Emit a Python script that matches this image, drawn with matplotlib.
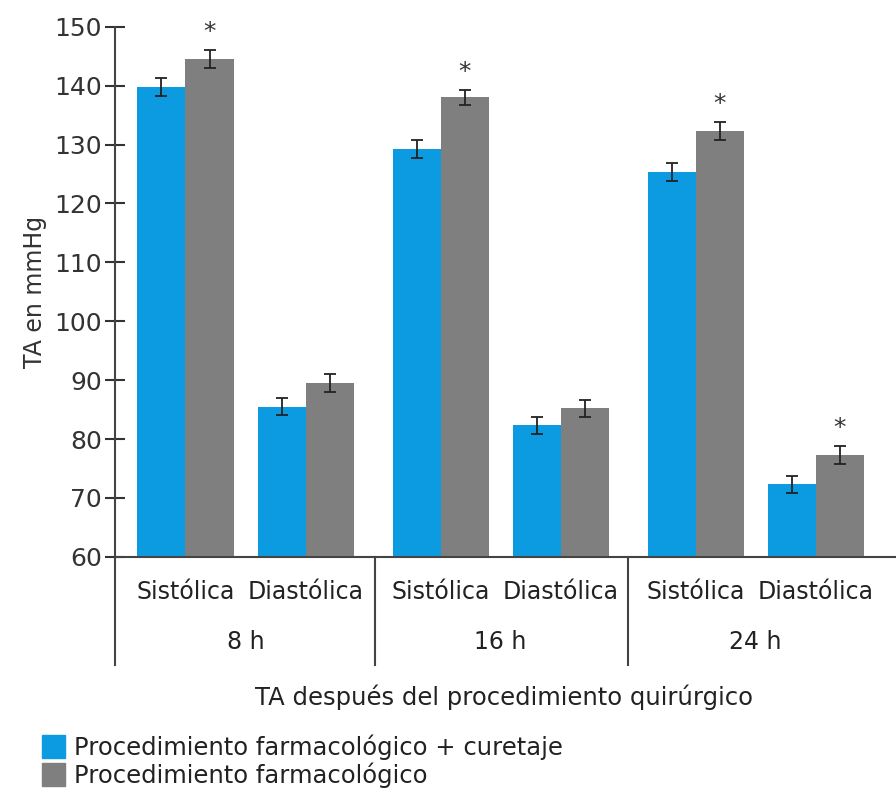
import numpy as np
import matplotlib.pyplot as plt
from matplotlib.patches import Patch

# datos
grupos = ["8 h", "16 h", "24 h"]
tipos = ["Sistólica", "Diastólica"]
farm_cur = [139.8, 85.5, 129.2, 82.3, 125.3, 72.3]
farm_cur_err = [1.5, 1.5, 1.5, 1.5, 1.5, 1.5]
farm = [144.5, 89.5, 138.0, 85.2, 132.3, 77.3]
farm_err = [1.5, 1.5, 1.3, 1.5, 1.5, 1.5]
signif = [True, False, True, False, True, True]

azul = "#0c9be0"
gris = "#7f7f7f"

plt.rcParams['font.family'] = ['DejaVu Sans']

fig = plt.figure(figsize=(8.96, 8), dpi=100)
ax = fig.add_axes([0.128, 0.304, 0.872, 0.6625])

w = 0.4
gap = 2.125
x = np.array([g * gap + s for g in range(3) for s in range(2)])

ax.bar(x - w / 2, farm_cur, w, color=azul, zorder=2)
ax.bar(x + w / 2, farm, w, color=gris, zorder=2)
ax.errorbar(x - w / 2, farm_cur, yerr=farm_cur_err, fmt="none", ecolor="#222222",
            elinewidth=1.3, capsize=4, capthick=1.3, zorder=3)
ax.errorbar(x + w / 2, farm, yerr=farm_err, fmt="none", ecolor="#222222",
            elinewidth=1.3, capsize=4, capthick=1.3, zorder=3)
for xi, v, e, s in zip(x, farm, farm_err, signif):
    if s:
        ax.text(xi + w / 2, v + e + 1.0, "*", ha="center", va="bottom",
                fontsize=18, color="#333333")

ax.set_ylim(60, 150)
ax.set_xlim(-0.59, 5.92)
ax.set_yticks(range(60, 151, 10))
ax.tick_params(axis="y", direction="inout", length=14, width=1.5, labelsize=18,
               colors="#333333", pad=2)
ax.set_xticks([])
for sp in ["top", "right"]:
    ax.spines[sp].set_visible(False)
ax.spines["left"].set_color("#444444")
ax.spines["left"].set_linewidth(1.5)
ax.spines["bottom"].set_color("#444444")
ax.spines["bottom"].set_linewidth(1.5)

ax.set_ylabel("TA en mmHg", fontsize=17, color="#333333", labelpad=5)

# etiquetas del eje x en dos niveles
trans = ax.get_xaxis_transform()
for i, xi in enumerate(x):
    ax.text(xi, -0.066, tipos[i % 2], transform=trans, ha="center", va="center",
            fontsize=17, color="#222222")
for g in range(3):
    ax.text(g * gap + 0.5, -0.16, grupos[g], transform=trans, ha="center",
            va="center", fontsize=17, color="#222222")
seps = [-0.59, (1 + gap) / 2 + 0.02, (1 + gap) / 2 + gap]
for s in seps:
    ax.plot([s, s], [0, -0.205], transform=trans, color="#444444", lw=1.5,
            clip_on=False)

fig.text(0.563, 0.128, "TA después del procedimiento quirúrgico", ha="center",
         va="center", fontsize=17.5, color="#222222")

handles = [Patch(color=azul), Patch(color=gris)]
fig.legend(handles, ["Procedimiento farmacológico + curetaje",
                     "Procedimiento farmacológico"],
           loc="lower left", bbox_to_anchor=(0.022, -0.012), frameon=False,
           fontsize=17.5, handlelength=0.95, handleheight=1.1, handletextpad=0.4,
           labelspacing=0.1, labelcolor="#222222")

fig.savefig("out.png", dpi=100)
